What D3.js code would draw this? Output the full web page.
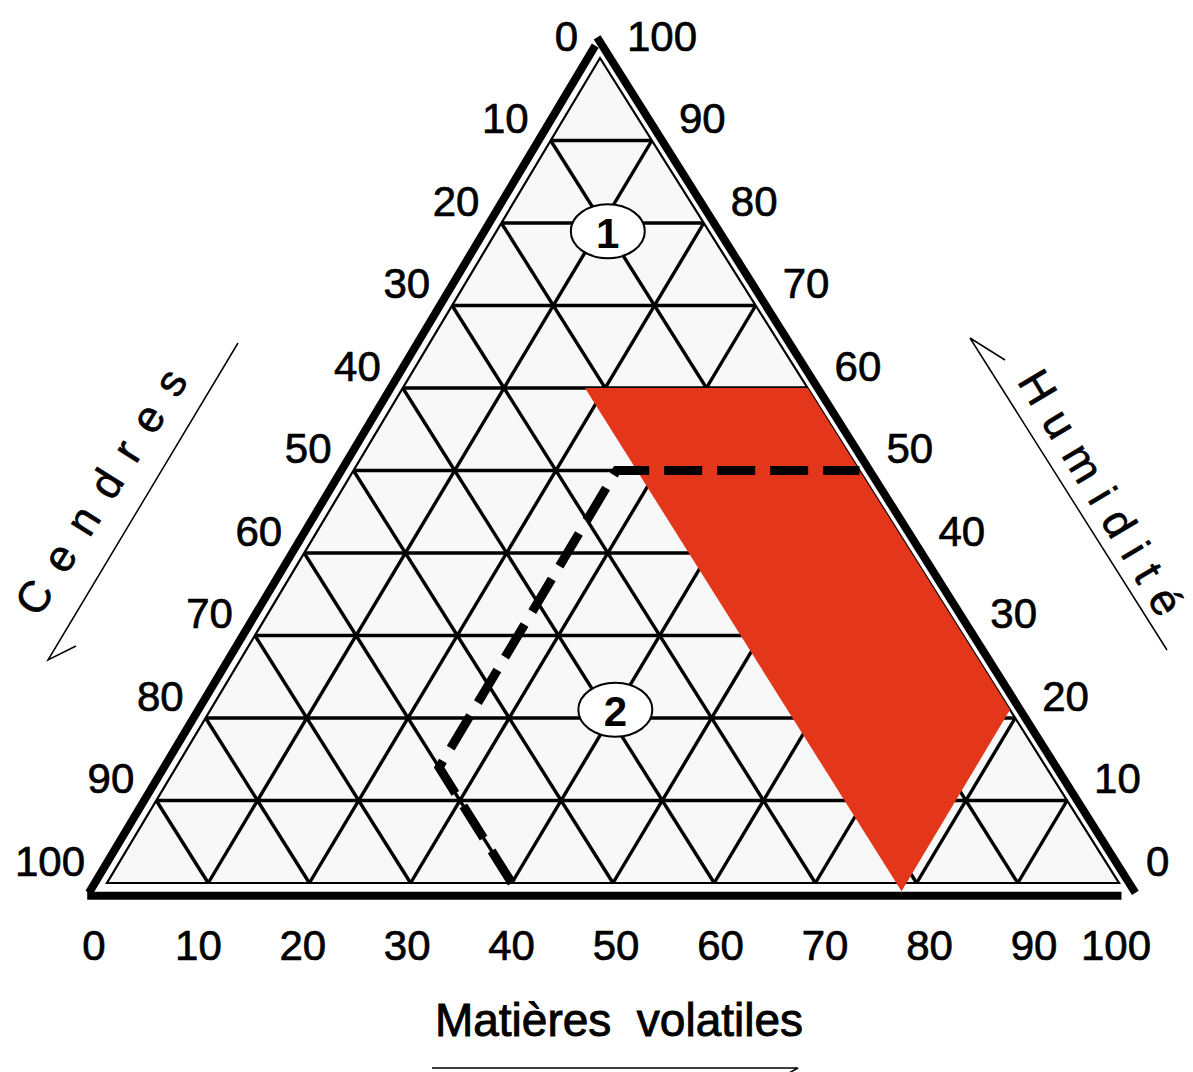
<!DOCTYPE html>
<html>
<head>
<meta charset="utf-8">
<script src="https://cdn.jsdelivr.net/npm/d3@7/dist/d3.min.js"></script>
<style>
  html, body { margin: 0; padding: 0; background: #ffffff; }
  svg { display: block; font-family: "Liberation Sans", Arial, Helvetica, sans-serif; }
</style>
</head>
<body>
<div id="chart"></div>
<script>
// ---- data ----
const ticks = [0, 10, 20, 30, 40, 50, 60, 70, 80, 90, 100];
const gridSteps = [10, 20, 30, 40, 50, 60, 70, 80, 90];
// red zone vertices (Matières volatiles, Humidité); Cendres = 100 - V - H
const redZoneV = [18, 40, 79, 79];
const redZoneH = [60, 60, 21, -1];
// dashed boundary (V, H)
const dashV = [40, 26, 26, 50];
const dashH = [0, 14, 50, 50];
// zone markers
const zoneLabels = ["1", "2"];
const zoneV = [11, 40];
const zoneH = [79, 21];
const titleBottom = "Matières volatiles";
const titleLeft = "Cendres";
const titleRight = "Humidité";

// ---- scales / projection ----
const W = 1193, Hh = 1072;
const xV = d3.scaleLinear().domain([0, 100]).range([107, 1119]);
const xH = d3.scaleLinear().domain([0, 100]).range([0, 493]);
const yH = d3.scaleLinear().domain([0, 100]).range([883, 58]);
const proj = (v, h) => [xV(v) + xH(h), yH(h)];
// placement of bottom tick labels
const xLab = d3.scaleLinear().domain([0, 50, 90, 100]).range([94, 616, 1034, 1116]);

const svg = d3.select("#chart").append("svg")
  .attr("width", W).attr("height", Hh)
  .attr("viewBox", `0 0 ${W} ${Hh}`);

svg.append("rect").attr("width", W).attr("height", Hh).attr("fill", "#ffffff");

const line = d3.line();

// inner triangle background
svg.append("path")
  .attr("d", line([proj(0, 0), proj(100, 0), proj(0, 100)]) + "Z")
  .attr("fill", "#f8f8f8");

// grid
const grid = svg.append("g").attr("stroke", "#000").attr("stroke-width", 3.4).attr("fill", "none");
gridSteps.forEach(h => {
  grid.append("path").attr("d", line([proj(0, h), proj(100 - h, h)]));
});
gridSteps.forEach(v => {
  grid.append("path").attr("d", line([proj(v, 0), proj(v, 100 - v)]));
});
gridSteps.forEach(a => {
  grid.append("path").attr("d", line([proj(100 - a, 0), proj(0, 100 - a)]));
});

// inner triangle outline
svg.append("path")
  .attr("d", line([proj(0, 0), proj(100, 0), proj(0, 100)]) + "Z")
  .attr("fill", "none").attr("stroke", "#000").attr("stroke-width", 2.2);

// red zone
svg.append("path")
  .attr("d", line(redZoneV.map((v, i) => proj(v, redZoneH[i]))) + "Z")
  .attr("fill", "#e3361a");

// dashed boundary
svg.append("path")
  .attr("d", line(dashV.map((v, i) => proj(v, dashH[i]))))
  .attr("fill", "none").attr("stroke", "#000").attr("stroke-width", 9)
  .attr("stroke-dasharray", "38,15").attr("stroke-linejoin", "miter");

// zone markers
zoneLabels.forEach((t, i) => {
  const [cx, cy] = proj(zoneV[i], zoneH[i]);
  svg.append("ellipse").attr("cx", cx).attr("cy", cy).attr("rx", 37).attr("ry", 27)
    .attr("fill", "#ffffff").attr("stroke", "#000").attr("stroke-width", 2);
  svg.append("text").attr("x", cx).attr("y", cy + 2)
    .attr("text-anchor", "middle").attr("dominant-baseline", "central")
    .attr("font-size", 42).attr("font-weight", "bold").text(t);
});

// thick outer frame
const frame = svg.append("g").attr("stroke", "#000").attr("stroke-width", 8).attr("fill", "none");
frame.append("path").attr("d", line([proj(-1.2, -1.2), proj(-1.2, 101.5)]));
frame.append("path").attr("d", line([proj(102.2, -1.2), proj(-1.5, 102.5)]));
frame.append("path").attr("d", line([proj(-1.2, -1.55), proj(101, -1.55)]));

// tick labels
const lab = svg.append("g").attr("font-size", 42).attr("fill", "#000")
  .attr("stroke", "#000").attr("stroke-width", 0.7);
ticks.forEach(c => {
  const [x, y] = proj(0, 100 - c);
  lab.append("text").attr("x", x - 22).attr("y", y - 22)
    .attr("text-anchor", "end").attr("dominant-baseline", "central").text(c);
});
ticks.forEach(h => {
  const [x, y] = proj(100 - h, h);
  lab.append("text").attr("x", x + 27).attr("y", y - 22)
    .attr("text-anchor", "start").attr("dominant-baseline", "central").text(h);
});
ticks.forEach(v => {
  lab.append("text").attr("x", xLab(v)).attr("y", 945)
    .attr("text-anchor", "middle").attr("dominant-baseline", "central").text(v);
});

// axis titles
svg.append("text").attr("x", 619).attr("y", 1020)
  .attr("text-anchor", "middle").attr("dominant-baseline", "central")
  .attr("font-size", 46).attr("stroke", "#000").attr("stroke-width", 0.9)
  .text(titleBottom.replace(" ", "\u00a0 "));
const ar = svg.append("g").attr("stroke", "#000").attr("stroke-width", 1.5).attr("fill", "none");
ar.append("path").attr("d", line([[432, 1068], [798, 1068], [778, 1079]]));

// letters placed individually along a direction, first and last glyph centres given
function spacedText(str, p0, p1, size) {
  const chars = Array.from(str);
  const tmp = svg.append("g").attr("font-size", size);
  const widths = chars.map(ch => {
    const t = tmp.append("text").text(ch);
    const w = t.node().getComputedTextLength();
    t.remove();
    return w;
  });
  tmp.remove();
  const dx = p1[0] - p0[0], dy = p1[1] - p0[1];
  const dist = Math.hypot(dx, dy);
  const ux = dx / dist, uy = dy / dist;
  const ang = Math.atan2(dy, dx) * 180 / Math.PI;
  const sumW = d3.sum(widths);
  const ls = (dist - (sumW - widths[0] / 2 - widths[widths.length - 1] / 2)) / (chars.length - 1);
  let s = 0;
  const g = svg.append("g").attr("font-size", size).attr("fill", "#000")
    .attr("stroke", "#000").attr("stroke-width", 0.6);
  chars.forEach((ch, i) => {
    if (i > 0) s += widths[i - 1] / 2 + ls + widths[i] / 2;
    const x = p0[0] + ux * s, y = p0[1] + uy * s;
    g.append("text").attr("transform", `translate(${x},${y}) rotate(${ang})`)
      .attr("text-anchor", "middle").attr("dominant-baseline", "central").text(ch);
  });
}

spacedText(titleLeft, [34, 597], [170, 382], 44);
ar.append("path").attr("d", line([[238, 343], [48, 660], [76, 646]]));

spacedText(titleRight, [1038, 387], [1166, 601], 44);
ar.append("path").attr("d", line([[1005, 360], [970, 338], [1167, 650]]));
</script>
</body>
</html>
